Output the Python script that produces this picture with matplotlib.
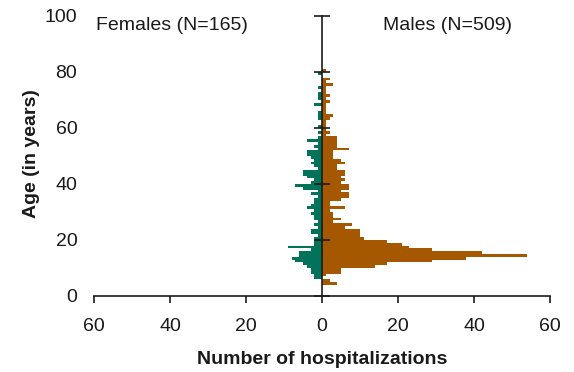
import matplotlib
matplotlib.use("Agg")
import matplotlib.pyplot as plt
import numpy as np

plt.rcParams['font.family'] = ['Liberation Sans', 'DejaVu Sans']

# Age (lower edge of 1-year bin)
ages = list(range(0, 81))

males = [0, 0, 0, 0, 4, 2, 0, 1, 5, 5,
         14, 17, 29, 38, 54, 42, 29, 23, 21, 17,
         11, 10, 10, 10, 6, 8, 3, 5, 3, 3,
         2, 6, 2, 2, 5, 7, 7, 5, 7, 7,
         5, 6, 5, 6, 6, 4, 4, 6, 5, 3,
         3, 3, 7, 4, 4, 4, 4, 1, 2, 1,
         1, 1, 1, 2, 3, 1, 1, 1, 1, 2,
         1, 2, 1, 1, 1, 3, 1, 2, 0, 0,
         1]

females = [0, 0, 0, 0, 0, 0, 2, 2, 3, 3,
           4, 5, 7, 8, 6, 6, 3, 9, 2, 2,
           2, 1, 3, 3, 1, 2, 1, 2, 2, 3,
           2, 4, 3, 2, 2, 1, 3, 1, 5, 7,
           3, 2, 4, 5, 5, 1, 2, 3, 2, 3,
           4, 4, 1, 2, 1, 4, 1, 0, 1, 0,
           1, 0, 0, 1, 1, 1, 0, 0, 2, 0,
           1, 1, 1, 0, 1, 0, 0, 0, 0, 1,
           0]

xticks = [-60, -40, -20, 0, 20, 40, 60]
xticklabels = ['60', '40', '20', '0', '20', '40', '60']
yticks = [0, 20, 40, 60, 80, 100]
yticklabels = ['0', '20', '40', '60', '80', '100']

green = '#00735A'
orange = '#A65800'

fig = plt.figure(figsize=(5.74, 3.72), dpi=100)
ax = fig.add_axes([94/574, 1 - 296/372, 456/574, 280/372])

ax.barh(ages, males, height=1, align='edge', color=orange, linewidth=0)
ax.barh(ages, [-f for f in females], height=1, align='edge', color=green, linewidth=0)

ax.set_xlim(-60, 60)
ax.set_ylim(0, 100)

for s in ['top', 'right', 'left']:
    ax.spines[s].set_visible(False)
ax.spines['bottom'].set_linewidth(1.2)
ax.spines['bottom'].set_color('#1a1a1a')

ax.set_xticks(xticks)
ax.set_xticklabels(xticklabels)
ax.set_yticks(yticks)
ax.set_yticklabels(yticklabels)
ax.tick_params(axis='x', direction='out', length=5, width=1.2, pad=11,
               labelsize=14, color='#1a1a1a', labelcolor='#1a1a1a')
ax.tick_params(axis='y', length=0, pad=12, labelsize=14, labelcolor='#1a1a1a')

# central vertical axis with crossing ticks
ax.plot([0, 0], [0, 100], color='#1a1a1a', lw=1.2, clip_on=False, zorder=5)
ax.plot([0] * len(yticks), yticks, ls='none', marker='_', ms=11, mew=1.2,
        color='#1a1a1a', clip_on=False, zorder=5)

ax.text(-59.4, 95.1, 'Females (N=165)', fontsize=14, ha='left', va='baseline',
        color='#1a1a1a')
ax.text(16.1, 95.1, 'Males (N=509)', fontsize=14, ha='left', va='baseline',
        color='#1a1a1a')

fig.text(31/574, 1 - 154/372, 'Age (in years)', rotation=90, ha='center',
         va='center', fontsize=14, fontweight='bold', color='#1a1a1a')
fig.text(322/574, 1 - 364/372, 'Number of hospitalizations', ha='center',
         va='baseline', fontsize=14, fontweight='bold', color='#1a1a1a')

fig.savefig('out.png', dpi=100)
